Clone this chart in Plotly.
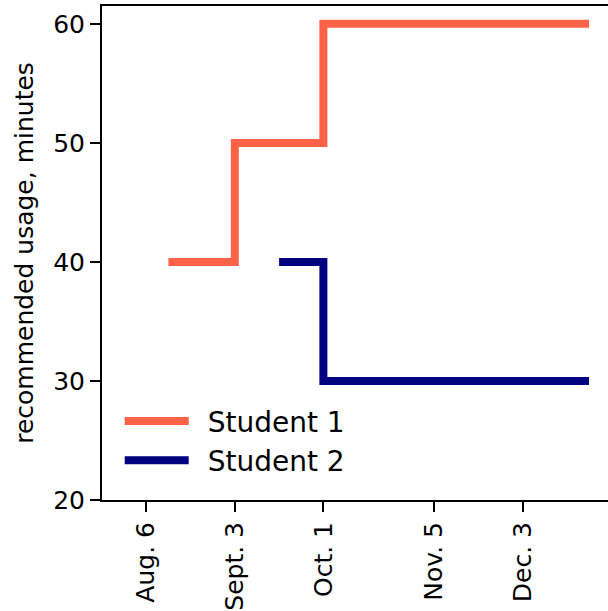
import plotly.graph_objects as go

# Data
s1_dates = ["2018-08-13", "2018-09-03", "2018-10-01", "2018-12-24"]
s1_values = [40, 50, 60, 60]
s2_dates = ["2018-09-17", "2018-10-01", "2018-12-24"]
s2_values = [40, 30, 30]
x_tickvals = ["2018-08-06", "2018-09-03", "2018-10-01", "2018-11-05", "2018-12-03"]
x_ticktext = ["Aug. 6", "Sept. 3", "Oct. 1", "Nov. 5", "Dec. 3"]
y_tickvals = [20, 30, 40, 50, 60]

FONT = "DejaVu Sans"

fig = go.Figure()
fig.add_trace(go.Scatter(x=s1_dates, y=s1_values, mode="lines", line_shape="hv",
                         line=dict(color="#FF6347", width=8), name="\u2002Student 1"))
fig.add_trace(go.Scatter(x=s2_dates, y=s2_values, mode="lines", line_shape="hv",
                         line=dict(color="#000080", width=8), name="\u2002Student 2"))

fig.update_layout(
    width=608, height=611,
    margin=dict(l=102, r=0, t=6, b=105),
    plot_bgcolor="white", paper_bgcolor="white",
    font=dict(family=FONT, color="black", size=25),
    showlegend=True,
    legend=dict(x=0.035, y=0.21, xanchor="left", yanchor="top",
                font=dict(size=28, family=FONT, color="black"),
                bgcolor="rgba(0,0,0,0)", itemwidth=64),
    xaxis=dict(range=["2018-07-23", "2018-12-30"], type="date",
               tickvals=x_tickvals, ticktext=x_ticktext, tickangle=-90,
               ticks="outside", ticklen=10, tickwidth=2, tickcolor="black",
               showline=True, linecolor="black", linewidth=2, mirror=True,
               showgrid=False, zeroline=False,
               tickfont=dict(size=25, family=FONT, color="black")),
    yaxis=dict(range=[20, 61.5], tickvals=y_tickvals,
               ticks="outside", ticklen=10, tickwidth=2, tickcolor="black",
               showline=True, linecolor="black", linewidth=2, mirror=False,
               showgrid=False, zeroline=False,
               tickfont=dict(size=25, family=FONT, color="black"),
               title=dict(text="recommended usage, minutes", standoff=12,
                          font=dict(size=25, family=FONT, color="black"))),
)

fig.write_html("out.html", config={"displayModeBar": False},
               post_script="document.body.style.margin='0';")
